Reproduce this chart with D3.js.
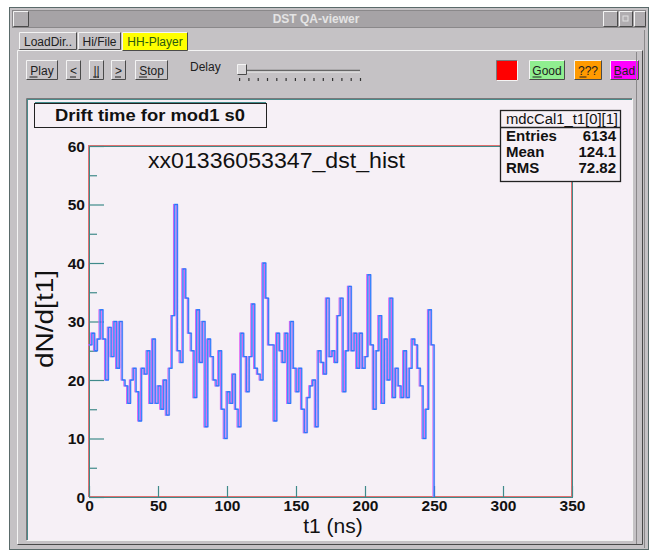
<!DOCTYPE html>
<html><head><meta charset="utf-8">
<script src="https://cdn.jsdelivr.net/npm/d3@7"></script>
<style>html,body{margin:0;padding:0;background:#fff;}svg{display:block;}</style>
</head><body>
<script>
// ---- data ----
const binStart = 0;      // ns
const binWidth = 2;      // ns
const counts = [
  26,28,25,27,32,27,20,29,24,30,22,30,20,19,16,20,22,18,13,22,21,25,16,27,16,19,15,20,14,22,
  31,50,25,23,39,34,28,25,17,32,23,30,12,27,24,20,19,25,15,10,18,16,21,15,12,28,24,18,24,33,22,
  21,20,40,34,26,26,13,28,25,23,28,16,30,22,18,22,15,11,17,19,20,12,25,23,21,34,24,25,23,31,34,
  18,25,36,25,28,22,28,22,24,38,26,15,25,31,16,27,20,34,17,22,19,17,25,17,22,27,26,22,19,10,15,32,26
];
const xTicks = [0,50,100,150,200,250,300,350];
const yTicks = [0,10,20,30,40,50,60];
const yMinor = [5,15,25,35,45,55];
const statsLabels = ["Entries","Mean","RMS"];
const statsValues = ["6134","124.1","72.82"];
const tabs = ["LoadDir..","Hi/File","HH-Player"];
const playButtons = ["Play","<","||",">","Stop"];
const qaButtons = ["Good","???","Bad"];

const W = 656, H = 553;
const svg = d3.select("body").append("svg").attr("width",W).attr("height",H)
  .style("font-family","'Liberation Sans', Arial, sans-serif");

const gray = "#c5c2c5", light = "#f4f4f4", dark = "#7a787a", darker = "#4a4a4a";
function raised(g, x, y, w, h, fill){
  g.append("rect").attr("x",x).attr("y",y).attr("width",w).attr("height",h).attr("fill",fill||gray);
  g.append("path").attr("d",`M${x},${y+h}V${y}H${x+w}`).attr("stroke",light).attr("fill","none");
  g.append("path").attr("d",`M${x},${y+h}H${x+w}V${y}`).attr("stroke",darker).attr("fill","none");
}
function sunken(g, x, y, w, h, fill){
  g.append("rect").attr("x",x).attr("y",y).attr("width",w).attr("height",h).attr("fill",fill||gray);
  g.append("path").attr("d",`M${x},${y+h}V${y}H${x+w}`).attr("stroke",dark).attr("fill","none");
  g.append("path").attr("d",`M${x},${y+h}H${x+w}V${y}`).attr("stroke",light).attr("fill","none");
}

// ---- window ----
const ui = svg.append("g");
ui.append("rect").attr("x",9.5).attr("y",7.5).attr("width",639).attr("height",542)
  .attr("fill",gray).attr("stroke","#5a6a6a");
// title bar
ui.append("rect").attr("x",12.5).attr("y",10.5).attr("width",633).attr("height",17).attr("fill","#a6a3a6").attr("stroke","#8a888a");
raised(ui,13.5,11.5,15,15,"#b0adb0");
raised(ui,603.5,11.5,14,15,"#b0adb0");
raised(ui,619.5,11.5,13,15,"#b0adb0");
raised(ui,634.5,11.5,11,15,"#b0adb0");
ui.append("rect").attr("x",623).attr("y",16).attr("width",5).attr("height",5).attr("fill","none").attr("stroke","#e0e0e0");
ui.append("text").attr("x",316).attr("y",23).attr("text-anchor","middle").attr("fill","#e4e4e4")
  .attr("font-size",12).attr("font-weight","bold").text("DST QA-viewer");

// tab panel
raised(ui,17.5,50.5,625,494);
// tabs
const tabX = [19,78,122], tabW = [57,42,65];
tabs.forEach((t,i)=>{
  const isSel = i===2;
  raised(ui,tabX[i]+0.5,32.5,tabW[i],isSel?18:17,isSel?"#ffff00":gray);
  ui.append("text").attr("x",tabX[i]+tabW[i]/2+0.5).attr("y",45.5).attr("text-anchor","middle")
    .attr("font-size",12).attr("fill",isSel?"#2a5a10":"#202020").text(t);
});

// play buttons
const pbX = [26,66,89,111,135], pbW = [31,14,14,14,32];
playButtons.forEach((t,i)=>{
  raised(ui,pbX[i]+0.5,60.5,pbW[i],19);
  ui.append("text").attr("x",pbX[i]+pbW[i]/2+0.5).attr("y",74.5).attr("text-anchor","middle")
    .attr("font-size",12).attr("fill","#202020").text(t);
  ui.append("line").attr("x1",pbX[i]+pbW[i]/2-(t.length>2?12:3)).attr("x2",pbX[i]+pbW[i]/2-(t.length>2?4:-3))
    .attr("y1",77).attr("y2",77).attr("stroke","#202020");
});
ui.append("text").attr("x",190).attr("y",71).attr("font-size",12).attr("fill","#202020").text("Delay");
// slider
ui.append("line").attr("x1",244).attr("x2",360).attr("y1",70.5).attr("y2",70.5).attr("stroke","#666").attr("stroke-width",1.5);
ui.append("line").attr("x1",244).attr("x2",360).attr("y1",72).attr("y2",72).attr("stroke","#eee");
raised(ui,237.5,64.5,9,10,"#d8d6d8");
d3.range(14).forEach(i=>{
  ui.append("rect").attr("x",239+i*9.3).attr("y",78).attr("width",1.2).attr("height",3).attr("fill","#333");
});
// red square
sunken(ui,496.5,60.5,21,20,"#ff0000");
const qaX=[529,574,610], qaW=[35,27,28], qaFill=["#90ee90","#ff9a00","#ff00ff"];
qaButtons.forEach((t,i)=>{
  raised(ui,qaX[i]+0.5,60.5,qaW[i],19,qaFill[i]);
  ui.append("text").attr("x",qaX[i]+qaW[i]/2+0.5).attr("y",74.5).attr("text-anchor","middle")
    .attr("font-size",12).attr("fill","#202020").text(t);
  ui.append("line").attr("x1",qaX[i]+qaW[i]/2-(t==="Good"?14:t==="Bad"?10:8)).attr("x2",qaX[i]+qaW[i]/2-(t==="Good"?5:t==="Bad"?2:1))
    .attr("y1",77).attr("y2",77).attr("stroke","#202020");
});

// canvas
const canvasBg = "#f6f0f6";
sunken(ui,26.5,98.5,606,442,canvasBg);
ui.append("line").attr("x1",27).attr("x2",632).attr("y1",99.5).attr("y2",99.5).attr("stroke","#4a8a8a");
ui.append("line").attr("x1",27.5).attr("x2",27.5).attr("y1",99).attr("y2",540).attr("stroke","#4a8a8a");
// right gutter lines
ui.append("line").attr("x1",636.5).attr("x2",636.5).attr("y1",52).attr("y2",544).attr("stroke","#8a888a");
ui.append("line").attr("x1",644.5).attr("x2",644.5).attr("y1",30).attr("y2",548).attr("stroke","#8a888a");

// ---- plot ----
const x = d3.scaleLinear().domain([0,350]).range([89,572]);
const y = d3.scaleLinear().domain([0,60]).range([497,146]);
const plot = svg.append("g");

// frame
plot.append("rect").attr("x",x(0)-0.5).attr("y",y(60)-0.5).attr("width",x(350)-x(0)).attr("height",y(0)-y(60))
  .attr("fill","none").attr("stroke","#e07070");
plot.append("rect").attr("x",x(0)+0.5).attr("y",y(60)+0.5).attr("width",x(350)-x(0)).attr("height",y(0)-y(60))
  .attr("fill","none").attr("stroke","#3f8a8a");

// axes
const xAxis = d3.axisBottom(x).tickValues(xTicks).tickSizeInner(-11).tickSizeOuter(0).tickPadding(3);
const gx = plot.append("g").attr("transform",`translate(0,${y(0)})`).call(xAxis);
const yAxis = d3.axisLeft(y).tickValues(yTicks).tickSizeInner(-15).tickSizeOuter(0).tickPadding(4);
const gy = plot.append("g").attr("transform",`translate(${x(0)},0)`).call(yAxis);
const yAxisMinor = d3.axisLeft(y).tickValues(yMinor).tickSizeInner(-8).tickSizeOuter(0).tickFormat("");
const gym = plot.append("g").attr("transform",`translate(${x(0)},0)`).call(yAxisMinor);
[gx,gy,gym].forEach(g=>{
  g.select(".domain").remove();
  g.selectAll(".tick line").attr("stroke","#3f8a8a").attr("stroke-width",1.2);
  g.selectAll("text").attr("font-size",15.5).attr("font-weight","bold").attr("fill","#111")
    .attr("font-family","'Liberation Sans', Arial, sans-serif");
});
gy.selectAll("text").attr("dy","0.35em");
gx.selectAll("text").attr("dy","0.68em");

// histogram
const pts = counts.map((c,i)=>[binStart+i*binWidth, c]);
const last = counts[counts.length-1];
const end = binStart+counts.length*binWidth;
pts.push([end,last]);
pts.push([end,0]);
const line = d3.line().x(d=>x(d[0])).y(d=>y(d[1])).curve(d3.curveStepAfter);
plot.append("path").datum(pts).attr("d",line).attr("fill","none").attr("stroke","#e060f0")
  .attr("stroke-width",1.2).attr("transform","translate(-1,0)");
plot.append("path").datum(pts).attr("d",line).attr("fill","none").attr("stroke","#3d94ff")
  .attr("stroke-width",1.4);
plot.append("path").datum(pts).attr("d",line).attr("fill","none").attr("stroke","#2030f0")
  .attr("stroke-width",0.7).attr("opacity",0.45).attr("transform","translate(0.6,0)");

// titles
svg.append("rect").attr("x",34.5).attr("y",103.5).attr("width",232).attr("height",24)
  .attr("fill",canvasBg).attr("stroke","#222");
svg.append("line").attr("x1",35).attr("x2",266).attr("y1",102.5).attr("y2",102.5).attr("stroke","#3f8a8a");
svg.append("text").attr("x",55).attr("y",121).attr("font-size",17).attr("font-weight","bold").attr("fill","#111")
  .attr("textLength",190).attr("lengthAdjust","spacingAndGlyphs").text("Drift time for mod1 s0");
svg.append("text").attr("x",148).attr("y",168).attr("font-size",22).attr("fill","#111")
  .attr("textLength",257).attr("lengthAdjust","spacingAndGlyphs").text("xx01336053347_dst_hist");
svg.append("text").attr("x",333).attr("y",533).attr("text-anchor","middle").attr("font-size",21).attr("fill","#111")
  .text("t1 (ns)");
svg.append("text").attr("transform","translate(53,319) rotate(-90)").attr("text-anchor","middle")
  .attr("font-size",23).attr("fill","#111").attr("textLength",98).attr("lengthAdjust","spacingAndGlyphs").text("dN/d[t1]");

// stats box
const sb = svg.append("g");
sb.append("rect").attr("x",500.5).attr("y",110.5).attr("width",120).attr("height",71).attr("fill",canvasBg)
  .attr("stroke","#222").attr("stroke-width",1.3);
sb.append("line").attr("x1",500).attr("x2",621).attr("y1",127.5).attr("y2",127.5).attr("stroke","#222").attr("stroke-width",1.3);
sb.append("text").attr("x",506).attr("y",124).attr("font-size",14).attr("fill","#111")
  .attr("textLength",112).attr("lengthAdjust","spacingAndGlyphs").text("mdcCal1_t1[0][1]");
statsLabels.forEach((l,i)=>{
  sb.append("text").attr("x",506).attr("y",141+i*16).attr("font-size",15).attr("font-weight","bold").attr("fill","#111").text(l);
  sb.append("text").attr("x",616).attr("y",141+i*16).attr("text-anchor","end").attr("font-size",15).attr("font-weight","bold").attr("fill","#111").text(statsValues[i]);
});
</script>
</body></html>
